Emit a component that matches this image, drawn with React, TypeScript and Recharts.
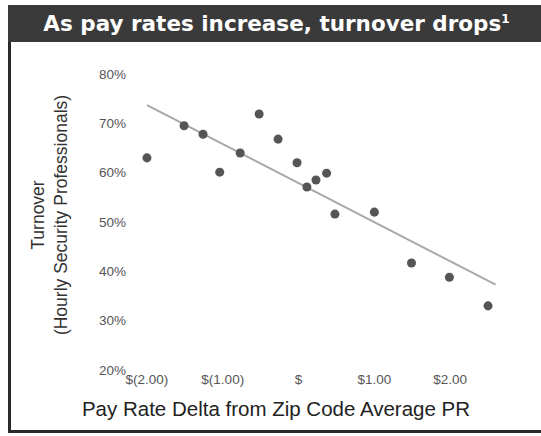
import { ScatterChart, Scatter, XAxis, YAxis, ZAxis, ReferenceLine } from 'recharts'

// pay rate delta vs zip code average ($/hr)
const payDelta = [-2.0, -1.51, -1.26, -1.04, -0.77, -0.52, -0.27, -0.02, 0.11, 0.23, 0.37, 0.48, 1.0, 1.49, 1.99, 2.5]
// turnover, %
const turnover = [63, 69.5, 67.8, 60.1, 64.0, 71.9, 66.8, 62.0, 57.1, 58.5, 59.9, 51.6, 52.0, 41.7, 38.8, 33.0]

const xTicks = [-2, -1, 0, 1, 2]
const xTickLabels = ['$(2.00)', '$(1.00)', '$', '$1.00', '$2.00']
const yTicks = [20, 30, 40, 50, 60, 70, 80]

// trend line end points
const trendX = [-2.0, 2.6]
const trendY = [73.7, 37.3]

const points = payDelta.map((x, i) => ({ x, y: turnover[i] }))

const font = '"Liberation Sans", Arial, sans-serif'

export default function App() {
    return (
        <div style={{ position: 'absolute', left: 0, top: 0, width: 541, height: 436, background: '#fff', overflow: 'hidden', fontFamily: font }}>
            {/* title bar */}
            <div style={{
                position: 'absolute', left: 8, top: 5, width: 533, height: 37, background: '#3a3a3a',
                color: '#fff', fontFamily: '"DejaVu Sans", Verdana, sans-serif', fontWeight: 'bold', fontSize: 21.5,
                lineHeight: '37px', textAlign: 'center', boxSizing: 'border-box', paddingLeft: 4, whiteSpace: 'nowrap'
            }}>
                As pay rates increase, turnover drops<sup style={{ fontSize: 12, verticalAlign: 'top', lineHeight: '28px' }}>1</sup>
            </div>
            {/* panel borders */}
            <div style={{ position: 'absolute', left: 8, top: 42, width: 3, height: 391, background: '#2a2a2a' }} />
            <div style={{ position: 'absolute', left: 8, top: 430, width: 533, height: 3, background: '#2a2a2a' }} />

            <div style={{ position: 'absolute', left: 0, top: 0 }}>
                <ScatterChart width={541} height={436} margin={{ top: 74, right: 34, bottom: 42, left: 0 }}>
                    <XAxis
                        type="number"
                        dataKey="x"
                        domain={[-2.25, 2.75]}
                        ticks={xTicks}
                        tickFormatter={(v: number) => xTickLabels[xTicks.indexOf(v)]}
                        axisLine={false}
                        tickLine={false}
                        tickSize={0}
                        tickMargin={4}
                        height={24}
                        tick={{ fill: '#555', fontSize: 13.5, fontFamily: font }}
                    />
                    <YAxis
                        type="number"
                        dataKey="y"
                        domain={[20, 80]}
                        ticks={yTicks}
                        tickFormatter={(v: number) => `${v}%`}
                        axisLine={false}
                        tickLine={false}
                        tickSize={0}
                        tickMargin={2}
                        width={128}
                        tick={{ fill: '#555', fontSize: 13.5, fontFamily: font }}
                    />
                    <ZAxis range={[113, 113]} />
                    <ReferenceLine
                        segment={[{ x: trendX[0], y: trendY[0] }, { x: trendX[1], y: trendY[1] }]}
                        stroke="#a8a8a8"
                        strokeWidth={2}
                        ifOverflow="visible"
                    />
                    <Scatter data={points} fill="#555" isAnimationActive={false} />
                </ScatterChart>
            </div>

            {/* axis titles */}
            <div style={{
                position: 'absolute', left: 51, top: 215, width: 300, marginLeft: -150, marginTop: -24, height: 48,
                transform: 'rotate(-90deg)', textAlign: 'center', fontSize: 17.5, lineHeight: '23px', color: '#333'
            }}>
                Turnover<br />(Hourly Security Professionals)
            </div>
            <div style={{ position: 'absolute', left: 276, top: 397, width: 500, marginLeft: -250, textAlign: 'center', fontSize: 20.5, color: '#222' }}>
                Pay Rate Delta from Zip Code Average PR
            </div>
        </div>
    )
}
